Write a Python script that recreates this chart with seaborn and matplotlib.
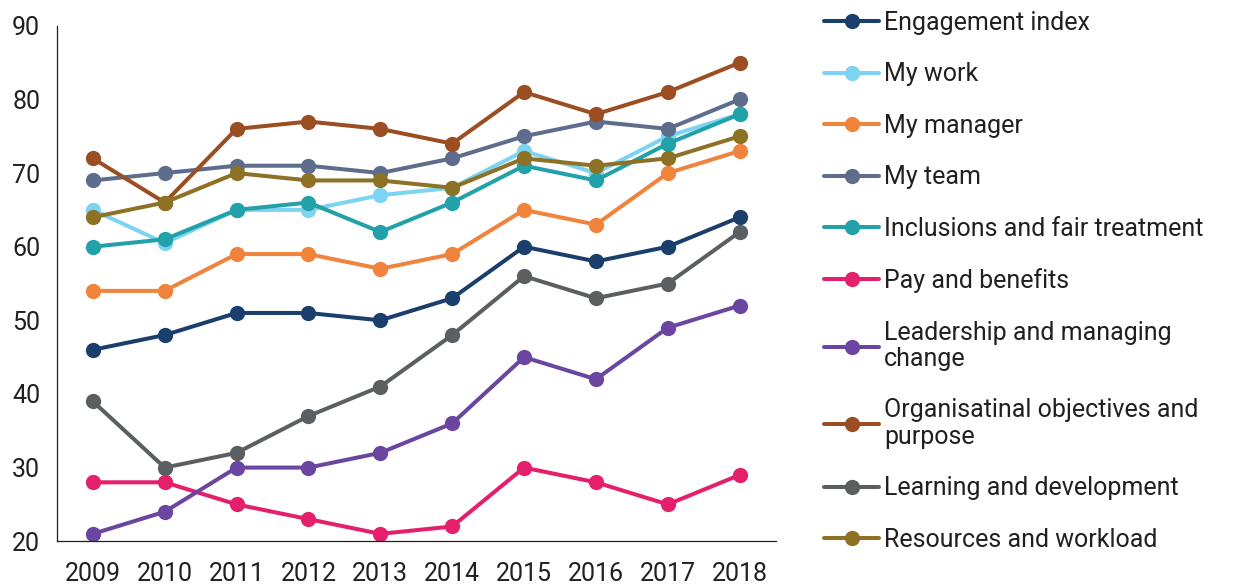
import pandas as pd
import numpy as np
import matplotlib
matplotlib.use('Agg')
import matplotlib.pyplot as plt
import seaborn as sns

years = [2009, 2010, 2011, 2012, 2013, 2014, 2015, 2016, 2017, 2018]

engagement = [46, 48, 51, 51, 50, 53, 60, 58, 60, 64]
my_work = [65, 60.5, 65, 65, 67, 68, 73, 70, 75, 78]
my_manager = [54, 54, 59, 59, 57, 59, 65, 63, 70, 73]
my_team = [69, 70, 71, 71, 70, 72, 75, 77, 76, 80]
inclusion = [60, 61, 65, 66, 62, 66, 71, 69, 74, 78]
pay = [28, 28, 25, 23, 21, 22, 30, 28, 25, 29]
leadership = [21, 24, 30, 30, 32, 36, 45, 42, 49, 52]
org_objectives = [72, 66, 76, 77, 76, 74, 81, 78, 81, 85]
learning = [39, 30, 32, 37, 41, 48, 56, 53, 55, 62]
resources = [64, 66, 70, 69, 69, 68, 72, 71, 72, 75]

labels = ['Engagement index', 'My work', 'My manager', 'My team',
          'Inclusions and fair treatment', 'Pay and benefits',
          'Leadership and managing\nchange',
          'Organisatinal objectives and\npurpose',
          'Learning and development', 'Resources and workload']
colors = ['#1b3f6c', '#7dd3f2', '#f0843c', '#5e6d8c', '#23a1a8',
          '#e4206c', '#6a46a0', '#9a4e22', '#5b5f61', '#8d7125']

series = [engagement, my_work, my_manager, my_team, inclusion, pay,
          leadership, org_objectives, learning, resources]

df = pd.DataFrame({
    'year': np.tile(np.arange(len(years)), len(series)),
    'value': np.concatenate(series),
    'group': np.repeat(labels, len(years)),
})

sns.set_style('white')
plt.rcParams['font.family'] = ['Roboto', 'DejaVu Sans']

fig = plt.figure(figsize=(12.37, 5.87), dpi=100)
ax = fig.add_axes([0.046, 0.078, 0.581, 0.878])

sns.lineplot(data=df, x='year', y='value', hue='group', hue_order=labels,
             palette=colors, marker='o', markersize=11, markeredgewidth=0,
             linewidth=2.9, ax=ax)

ax.set_xlim(-0.5, len(years) - 0.5)
ax.set_ylim(20, 90)
ax.set_xticks(range(len(years)))
ax.set_xticklabels([str(y) for y in years])
ax.set_yticks(range(20, 91, 10))
ax.tick_params(axis='both', labelsize=18, colors='#231f20', length=0)
ax.tick_params(axis='y', pad=12)
ax.tick_params(axis='x', pad=15)
ax.set_xlabel('')
ax.set_ylabel('')
for s in ['top', 'right']:
    ax.spines[s].set_visible(False)
ax.spines['left'].set_color('#231f20')
ax.spines['bottom'].set_color('#231f20')
ax.spines['left'].set_linewidth(0.9)
ax.spines['bottom'].set_linewidth(0.9)

handles, labs = ax.get_legend_handles_labels()
leg = ax.legend(handles, labs, loc='upper left', bbox_to_anchor=(0.648, 1.02),
                bbox_transform=fig.transFigure, frameon=False, fontsize=18,
                handlelength=2.2, handletextpad=0.2, labelspacing=1.1,
                labelcolor='#231f20')
for t in leg.get_texts():
    t.set_linespacing(1.12)

fig.savefig('out.png', dpi=100)
